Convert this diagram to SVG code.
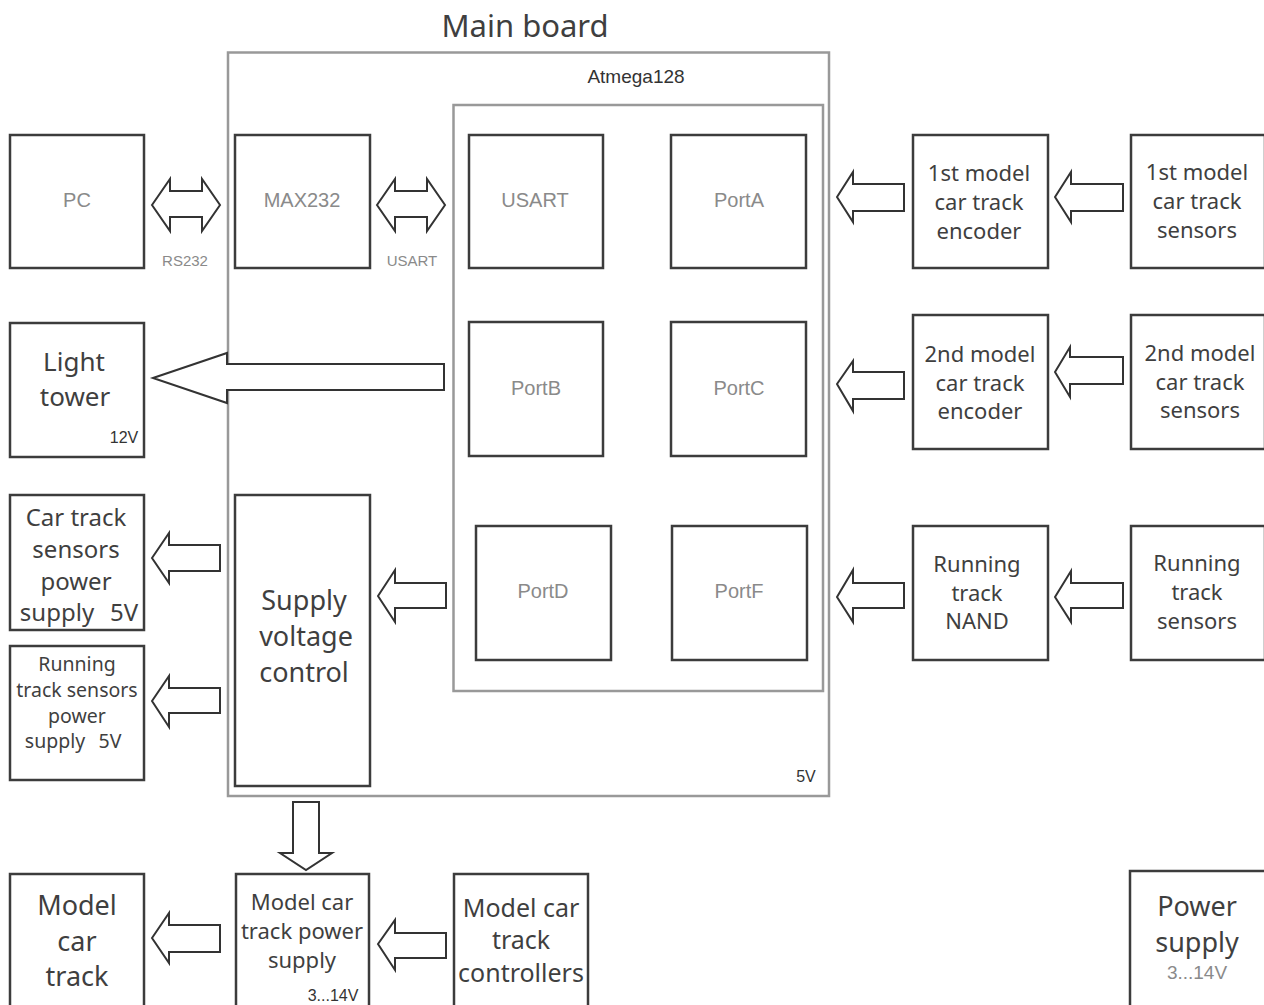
<svg xmlns="http://www.w3.org/2000/svg" width="1264" height="1005" viewBox="0 0 1264 1005">
<style>
.bg{fill:#fff}
.board{fill:none;stroke:#999;stroke-width:2.5}
.box{fill:#fff;stroke:#3c3c3c;stroke-width:2.5}
.arr{fill:#fff;stroke:#333;stroke-width:2;stroke-linejoin:miter}
.t{font-family:"Noto Sans","DejaVu Sans",sans-serif;fill:#3f3f3f;text-anchor:middle}
.g{font-family:"Liberation Sans",Arial,sans-serif;fill:#8a8a8a;text-anchor:middle}
.d{font-family:"Liberation Sans",Arial,sans-serif;fill:#333;text-anchor:middle}
</style>
<rect class="bg" x="0" y="0" width="1264" height="1005"/>

<g id="main-board">
<rect class="board" x="228" y="52.5" width="601" height="743.5"/>
<text class="t" x="525" y="37" font-size="31">Main board</text>
<text class="d" x="806" y="782" font-size="16">5V</text>
</g>
<g id="atmega128">
<rect class="board" x="453.5" y="105" width="369.5" height="586"/>
<text class="d" x="636" y="83" font-size="19" fill="#444">Atmega128</text>
</g>

<g id="pc"><rect class="box" x="10" y="135" width="134" height="133"/><text class="g" x="77" y="207" font-size="20">PC</text></g>
<g id="max232"><rect class="box" x="235" y="135" width="135" height="133"/><text class="g" x="302" y="207" font-size="20">MAX232</text></g>
<g id="usart"><rect class="box" x="469" y="135" width="134" height="133"/><text class="g" x="535" y="207" font-size="20">USART</text></g>
<g id="porta"><rect class="box" x="671" y="135" width="135" height="133"/><text class="g" x="739" y="207" font-size="20">PortA</text></g>
<g id="portb"><rect class="box" x="469" y="322" width="134" height="134"/><text class="g" x="536" y="395" font-size="20">PortB</text></g>
<g id="portc"><rect class="box" x="671" y="322" width="135" height="134"/><text class="g" x="739" y="395" font-size="20">PortC</text></g>
<g id="portd"><rect class="box" x="476" y="526" width="135" height="134"/><text class="g" x="543" y="598" font-size="20">PortD</text></g>
<g id="portf"><rect class="box" x="672" y="526" width="135" height="134"/><text class="g" x="739" y="598" font-size="20">PortF</text></g>

<g id="light-tower"><rect class="box" x="10" y="323" width="134" height="134"/>
<text class="t" font-size="26"><tspan x="74" y="371">Light</tspan><tspan x="75" y="406">tower</tspan></text>
<text class="d" x="124" y="443" font-size="16">12V</text></g>

<g id="supply-voltage-control"><rect class="box" x="235" y="495" width="135" height="291"/>
<text class="t" font-size="27"><tspan x="304" y="610">Supply</tspan><tspan x="306" y="646">voltage</tspan><tspan x="304" y="682">control</tspan></text></g>

<g id="car-track-sensors-power"><rect class="box" x="10" y="495" width="134" height="135"/>
<text class="t" font-size="24"><tspan x="76" y="526">Car track</tspan><tspan x="76" y="558">sensors</tspan><tspan x="76" y="590">power</tspan><tspan x="57" y="621">supply</tspan><tspan x="124" y="621">5V</tspan></text></g>

<g id="running-track-sensors-power"><rect class="box" x="10" y="646" width="134" height="134"/>
<text class="t" font-size="19.5" fill="#555"><tspan x="77" y="671">Running</tspan><tspan x="77" y="697">track sensors</tspan><tspan x="77" y="723">power</tspan><tspan x="55" y="748">supply</tspan><tspan x="110" y="748">5V</tspan></text></g>

<g id="encoder1"><rect class="box" x="913" y="135" width="135" height="133"/>
<text class="t" font-size="22"><tspan x="979" y="181">1st model</tspan><tspan x="979" y="210">car track</tspan><tspan x="979" y="239">encoder</tspan></text></g>
<g id="sensors1"><rect class="box" x="1131" y="135" width="134" height="133"/>
<text class="t" font-size="22"><tspan x="1197" y="180">1st model</tspan><tspan x="1197" y="209">car track</tspan><tspan x="1197" y="238">sensors</tspan></text></g>

<g id="encoder2"><rect class="box" x="913" y="315" width="135" height="134"/>
<text class="t" font-size="22"><tspan x="980" y="362">2nd model</tspan><tspan x="980" y="391">car track</tspan><tspan x="980" y="419">encoder</tspan></text></g>
<g id="sensors2"><rect class="box" x="1131" y="315" width="134" height="134"/>
<text class="t" font-size="22"><tspan x="1200" y="361">2nd model</tspan><tspan x="1200" y="390">car track</tspan><tspan x="1200" y="418">sensors</tspan></text></g>

<g id="running-nand"><rect class="box" x="913" y="526" width="135" height="134"/>
<text class="t" font-size="22"><tspan x="977" y="572">Running</tspan><tspan x="977" y="601">track</tspan><tspan x="977" y="629">NAND</tspan></text></g>
<g id="running-sensors"><rect class="box" x="1131" y="526" width="134" height="134"/>
<text class="t" font-size="22"><tspan x="1197" y="571">Running</tspan><tspan x="1197" y="600">track</tspan><tspan x="1197" y="629">sensors</tspan></text></g>

<g id="model-car-track"><rect class="box" x="10" y="874" width="134" height="140"/>
<text class="t" font-size="27"><tspan x="77" y="915">Model</tspan><tspan x="77" y="951">car</tspan><tspan x="77" y="986">track</tspan></text></g>

<g id="model-car-track-power-supply"><rect class="box" x="236" y="874" width="133" height="140"/>
<text class="t" font-size="22"><tspan x="302" y="910">Model car</tspan><tspan x="302" y="939">track power</tspan><tspan x="302" y="968">supply</tspan></text>
<text class="d" x="333" y="1001" font-size="16">3...14V</text></g>

<g id="model-car-track-controllers"><rect class="box" x="454" y="874" width="134" height="140"/>
<text class="t" font-size="25"><tspan x="521" y="917">Model car</tspan><tspan x="521" y="949">track</tspan><tspan x="521" y="982">controllers</tspan></text></g>

<g id="power-supply"><rect class="box" x="1130" y="871" width="140" height="145"/>
<text class="t" font-size="27"><tspan x="1197" y="916">Power</tspan><tspan x="1197" y="952">supply</tspan></text>
<text class="g" x="1197" y="979" font-size="19">3...14V</text></g>

<g id="connectors">
<path class="arr" d="M152,205 L170,179 L170,191 L202,191 L202,179 L220,205 L202,231 L202,217 L170,217 L170,231 Z"/>
<text class="g" x="185" y="266" font-size="15">RS232</text>
<path class="arr" d="M377,205 L395,179 L395,191 L427,191 L427,179 L445,205 L427,231 L427,217 L395,217 L395,231 Z"/>
<text class="g" x="412" y="266" font-size="15">USART</text>
<path class="arr" d="M153,378 L227,353 L227,364 L444,364 L444,390 L227,390 L227,403 Z"/>
<path class="arr" d="M152,558 L169,533 L169,545 L220,545 L220,571 L169,571 L169,583 Z"/>
<path class="arr" d="M152,701 L169,676 L169,688 L220,688 L220,713 L169,713 L169,727 Z"/>
<path class="arr" d="M378,596 L395,570 L395,583 L446,583 L446,608 L395,608 L395,622 Z"/>
<path class="arr" d="M293,802 L319,802 L319,853 L332,853 L306,870 L280,853 L293,853 Z"/>
<path class="arr" d="M152,938 L169,913 L169,925 L220,925 L220,952 L169,952 L169,963 Z"/>
<path class="arr" d="M378,944 L395,920 L395,933 L446,933 L446,958 L395,958 L395,970 Z"/>
<path class="arr" d="M837,197 L853,172 L853,184 L904,184 L904,211 L853,211 L853,222 Z"/>
<path class="arr" d="M1055,197 L1071,172 L1071,184 L1123,184 L1123,211 L1071,211 L1071,222 Z"/>
<path class="arr" d="M837,384 L853,361 L853,372 L904,372 L904,399 L853,399 L853,411 Z"/>
<path class="arr" d="M1055,372 L1070,347 L1070,357 L1123,357 L1123,384 L1070,384 L1070,397 Z"/>
<path class="arr" d="M837,597 L853,570 L853,583 L904,583 L904,608 L853,608 L853,622 Z"/>
<path class="arr" d="M1055,597 L1071,571 L1071,583 L1123,583 L1123,608 L1071,608 L1071,622 Z"/>
</g>
</svg>
